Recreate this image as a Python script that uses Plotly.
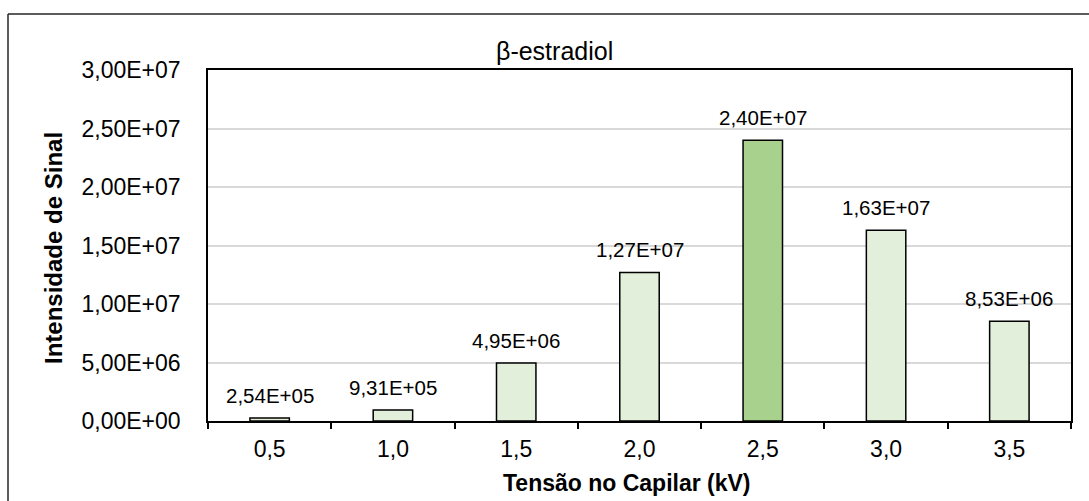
import plotly.graph_objects as go

# Capillary voltage (kV) and signal intensity for beta-estradiol
categories = ["0,5", "1,0", "1,5", "2,0", "2,5", "3,0", "3,5"]
intensities = [2.54e5, 9.31e5, 4.95e6, 1.27e7, 2.40e7, 1.63e7, 8.53e6]
highlight = "2,5"

y_tickvals = [0, 5e6, 1e7, 1.5e7, 2e7, 2.5e7, 3e7]
y_ticktext = ["0,00E+00", "5,00E+06", "1,00E+07", "1,50E+07",
              "2,00E+07", "2,50E+07", "3,00E+07"]

FONT = "Arial, Liberation Sans, sans-serif"
LIGHT = "#e2efda"
DARK = "#a9d18e"


def sci_pt(v):
    """Scientific notation with a decimal comma, e.g. 2,54E+05."""
    return f"{v:.2E}".replace(".", ",")


W, H = 1089, 501
L, R, T, B = 208, 18, 70, 80
PW, PH = W - L - R, H - T - B


def px_x(px):
    return (px - L) / PW


def px_y(py):
    return (H - B - py) / PH


fig = go.Figure()
fig.add_trace(go.Bar(
    x=categories,
    y=intensities,
    width=0.32,
    marker=dict(
        color=[DARK if c == highlight else LIGHT for c in categories],
        line=dict(color="black", width=1.5),
    ),
    hoverinfo="x+y",
))

# value labels above each bar
for c, v in zip(categories, intensities):
    fig.add_annotation(
        x=c, y=v, xref="x", yref="y", text=sci_pt(v), showarrow=False,
        yanchor="middle", yshift=23,
        font=dict(family=FONT, size=20.5, color="black"),
    )

# chart title and axis titles
fig.add_annotation(x=px_x(554), y=px_y(51), xref="paper", yref="paper",
                   text="β-estradiol", showarrow=False,
                   xanchor="center", yanchor="middle",
                   font=dict(family=FONT, size=25, color="black"))
fig.add_annotation(x=px_x(627), y=px_y(483), xref="paper", yref="paper",
                   text="<b>Tensão no Capilar (kV)</b>", showarrow=False,
                   xanchor="center", yanchor="middle",
                   font=dict(family=FONT, size=23, color="black"))
fig.add_annotation(x=px_x(53), y=px_y(248), xref="paper", yref="paper",
                   text="<b>Intensidade de Sinal</b>", showarrow=False,
                   textangle=-90, xanchor="center", yanchor="middle",
                   font=dict(family=FONT, size=24, color="black"))

# outer chart frame (top and left edges)
fig.add_shape(type="line", xref="paper", yref="paper",
              x0=px_x(8), x1=px_x(1100), y0=px_y(14), y1=px_y(14),
              line=dict(color="#262626", width=1.5))
fig.add_shape(type="line", xref="paper", yref="paper",
              x0=px_x(8), x1=px_x(8), y0=px_y(14), y1=px_y(510),
              line=dict(color="#262626", width=1.5))

fig.update_layout(
    width=W, height=H,
    margin=dict(l=L, r=R, t=T, b=B),
    paper_bgcolor="white", plot_bgcolor="white",
    showlegend=False,
    font=dict(family=FONT, color="black"),
    xaxis=dict(
        type="category",
        tickson="boundaries",
        ticks="outside", ticklen=6, tickwidth=1.5, tickcolor="black",
        showline=True, linecolor="black", linewidth=1.5, mirror=True,
        showgrid=False,
        tickfont=dict(family=FONT, size=23, color="black"),
        ticklabelstandoff=7,
    ),
    yaxis=dict(
        range=[0, 3e7],
        tickvals=y_tickvals, ticktext=y_ticktext,
        ticks="",
        showline=True, linecolor="black", linewidth=1.5, mirror=True,
        showgrid=True, gridcolor="#d9d9d9", gridwidth=1.5,
        zeroline=False,
        tickfont=dict(family=FONT, size=23, color="black"),
        ticklabelstandoff=21,
    ),
)

fig.write_html("out.html")
